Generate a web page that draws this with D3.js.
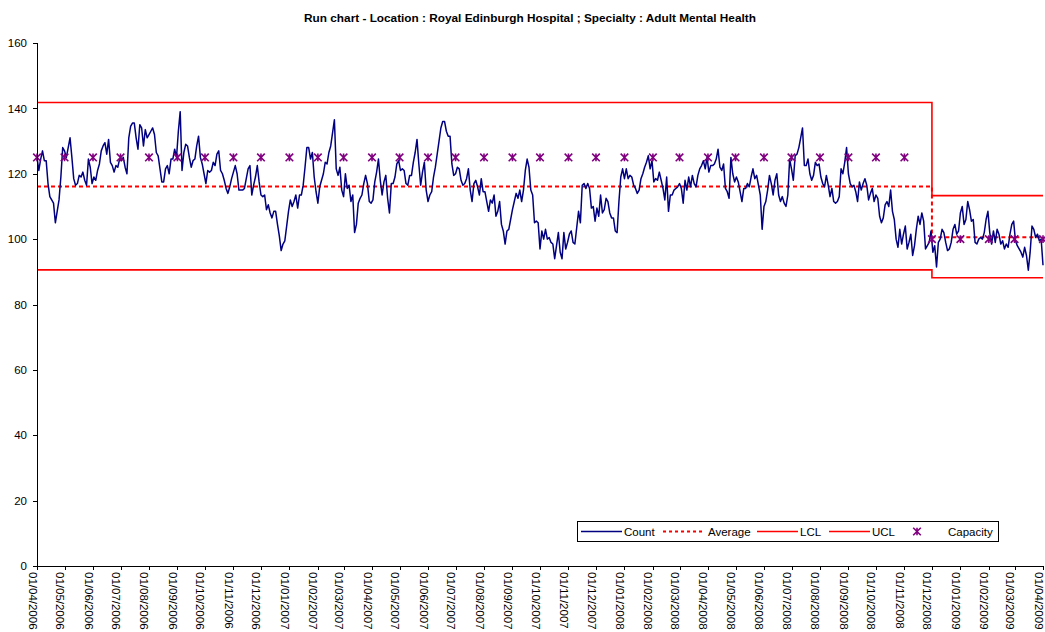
<!DOCTYPE html>
<html>
<head>
<meta charset="utf-8">
<script src="https://cdn.jsdelivr.net/npm/d3@7"></script>
<style>
  body { margin: 0; background: #fff; }
  svg { font-family: Arial, "Liberation Sans", sans-serif; }
  .axis path, .axis line { stroke: #000; shape-rendering: crispEdges; }
  .axis text { fill: #000; }
</style>
</head>
<body>
<div id="wrapper"></div>
<script>
// ---- data ----
const chartTitle = "Run chart - Location : Royal Edinburgh Hospital ; Specialty : Adult Mental Health"

const monthLabels = [
  "01/04/2006","01/05/2006","01/06/2006","01/07/2006","01/08/2006","01/09/2006",
  "01/10/2006","01/11/2006","01/12/2006","01/01/2007","01/02/2007","01/03/2007",
  "01/04/2007","01/05/2007","01/06/2007","01/07/2007","01/08/2007","01/09/2007",
  "01/10/2007","01/11/2007","01/12/2007","01/01/2008","01/02/2008","01/03/2008",
  "01/04/2008","01/05/2008","01/06/2008","01/07/2008","01/08/2008","01/09/2008",
  "01/10/2008","01/11/2008","01/12/2008","01/01/2009","01/02/2009","01/03/2009",
  "01/04/2009"
]

// capacity, one per month label
const capacity = [
  125,125,125,125,125,125,125,125,125,125,125,125,
  125,125,125,125,125,125,125,125,125,125,125,125,
  125,125,125,125,125,125,125,125,100,100,100,100,
  100
]

// count, one reading every 2 days from 01/04/2006
const countStart = "01/04/2006"
const countStepDays = 2
const countValues = [
  125,121,124.5,127,124,124,117,113,112,111,
  105,108.5,112,119,128,127,125,128,131,125,
  118.5,116.5,117,119.5,119,120.5,118,116.5,124.5,122,
  117,119,118,121,123,127,128.5,129.5,126,130.5,
  123.5,122.5,120.5,122.5,122,124.5,124,125,122,120,
  131,134.5,135.5,135.5,131,127.5,135,134,128.5,133.5,
  131,132,133,134,132,126.5,125.5,121.5,117.5,117.5,
  121.5,122.5,120,124.5,124.5,127.5,125,133,139,121,
  126.5,129,128.5,125,122,124,124.5,128.5,131.5,125,
  123,120,117,121,120.5,121,123.5,122.5,126,127,
  121,120,118,115.5,114,116,118.5,120.5,122.5,120,
  115,115,115,115.5,118.5,121.5,122.5,113.5,116.5,119,
  122.5,117.5,113.5,113,113.5,109,110.5,108,106.5,108.5,
  108.5,104.5,101,96.5,98.5,99.5,104,108.5,112,110,
  111.5,113.5,109.5,113.5,113.5,116.5,122,128,128,124.5,
  126.5,119,114.5,111,116,118,120,123.5,123,126.5,
  128.5,132.5,136.5,121.5,119.5,122,115,113,120,115.5,
  116.5,111.5,113.5,102,104.5,111,112.5,113.5,117,119.5,
  117,111.5,111,112,117.5,120.5,124.5,118,113.5,117.5,
  119.5,112.5,108,117,117,119,123,124,121,121.5,
  121,117,116.5,119.5,119.5,123.5,126.5,130.5,123,116.5,
  120.5,123.5,115,111.5,113.5,114.5,119,122,126,130,
  134,136,136,133,131.5,131.5,123,119.5,120,122,
  121.5,118,116.5,117,118.5,121.5,115,111.5,117,118,
  116,113.5,118.5,114.5,114.5,111.5,108.5,112,111,113.5,
  107,108.5,111.5,104.5,102.5,98.5,102.5,103,106,109,
  111.5,114,112.5,115,111.5,115,121,124.5,122,115,
  113.5,105,105.5,105,97,102.5,100,103,100,100.5,
  99,98.5,94,98,102,96,94,102,97,99,
  101.5,102.5,99,98.5,103.5,108.5,105,116.5,117,115.5,
  117,115.5,109.5,110,105.5,109.5,107,113.5,108,109,
  112.5,111.5,108,106.5,106.5,102.5,102,111.5,119,121.5,
  118.5,121.5,118.5,119.5,119,116.5,115.5,114,115,118.5,
  120,122,123.5,125.5,121.5,124,117.5,118.5,118,120.5,
  118,115.5,112,119,108.5,113.5,113.5,115,115.5,116,
  117,115.5,111,118,115,119,116,119.5,117,116,
  119.5,121.5,122.5,124,121.5,125,120.5,122.5,122.5,123,
  124.5,127.5,122,121,123,115.5,114.5,112.5,125,120,
  117.5,119,117.5,114.5,111.5,115.5,115.5,117,116,119,
  121.5,118.5,119.5,116.5,113.5,103,110,111.5,115,119.5,
  117,113.5,118,120,113.5,111.5,113,111,110,113.5,
  124.5,121.5,118,125.5,126,128,131,134,122.5,122.5,
  124.5,120,118,119.5,123.5,122.5,123,119,117,116,
  119.5,116.5,113,115.5,111.5,111,111.5,113,121.5,120,
  123.5,128,120,117,116,116.5,114.5,111.5,117.5,115,
  117,118.5,116.5,112,114,115.5,111.5,113.5,112.5,107,
  105,106.5,110.5,111.5,110,115,108.5,106,100,97.5,
  103,98.5,101.5,104,97,99,101.5,95,98,103,
  107,104.5,108,105.5,97,98,99,102.5,96,98,
  91.5,99,100,103,102,99,96.5,97,99,103,
  104.5,101.5,102.5,108,110,104.5,106,111.5,109,105.5,
  106,99,98.5,100,100.5,100,102,106,108.5,102,
  98.5,102.5,99,103,101.5,98.5,99.5,97,98.5,97.5,
  101.5,104.5,105.5,99.5,98,97,96,94.5,97.5,95,
  90.5,96,104,103,100.5,101.5,99.5,100,92
]

// control limits: value holds from each date until the next
const limitDates = ["01/04/2006", "01/12/2008", "01/04/2009"]
const average = [116.1, 100.6, 100.6]
const lcl = [90.6, 88.2, 88.2]
const ucl = [141.8, 113.3, 113.3]

const yTicks = [0, 20, 40, 60, 80, 100, 120, 140, 160]

// ---- chart ----
const parseDate = d3.timeParse("%d/%m/%Y")

const dimensions = {
  width: 1045,
  height: 632,
  margin: { top: 43, right: 2, bottom: 66, left: 37 },
}
dimensions.boundedWidth = dimensions.width - dimensions.margin.left - dimensions.margin.right
dimensions.boundedHeight = dimensions.height - dimensions.margin.top - dimensions.margin.bottom

const months = monthLabels.map(parseDate)
const start = parseDate(countStart)
const counts = countValues.map((v, i) => ({ date: d3.timeDay.offset(start, i * countStepDays), value: v }))

const limitRows = (values) => limitDates.map((d, i) => ({ date: parseDate(d), value: values[i] }))

const xScale = d3.scaleTime()
  .domain([months[0], months[months.length - 1]])
  .range([0, dimensions.boundedWidth])

const yScale = d3.scaleLinear()
  .domain([0, 160])
  .range([dimensions.boundedHeight, 0])

const wrapper = d3.select("#wrapper")
  .append("svg")
    .attr("width", dimensions.width)
    .attr("height", dimensions.height)

wrapper.append("text")
    .attr("x", 530)
    .attr("y", 22)
    .attr("text-anchor", "middle")
    .style("font-size", "11.8px")
    .style("font-weight", "bold")
    .text(chartTitle)

const bounds = wrapper.append("g")
    .attr("transform", `translate(${dimensions.margin.left},${dimensions.margin.top})`)

// limits
const stepLine = d3.line()
  .x(d => xScale(d.date))
  .y(d => yScale(d.value))
  .curve(d3.curveStepAfter)

bounds.append("path")
    .datum(limitRows(lcl))
    .attr("d", stepLine)
    .attr("fill", "none")
    .attr("stroke", "#ff0000")
    .attr("stroke-width", 1.6)

bounds.append("path")
    .datum(limitRows(ucl))
    .attr("d", stepLine)
    .attr("fill", "none")
    .attr("stroke", "#ff0000")
    .attr("stroke-width", 1.6)

bounds.append("path")
    .datum(limitRows(average))
    .attr("d", stepLine)
    .attr("fill", "none")
    .attr("stroke", "#ff0000")
    .attr("stroke-width", 2)
    .attr("stroke-dasharray", "4,3")

// count
const countLine = d3.line()
  .x(d => xScale(d.date))
  .y(d => yScale(d.value))

bounds.append("path")
    .datum(counts)
    .attr("d", countLine)
    .attr("fill", "none")
    .attr("stroke", "#000080")
    .attr("stroke-width", 1.5)
    .attr("stroke-linejoin", "round")

// capacity markers
const star = s => `M${-s},${-s}L${s},${s}M${-s},${s}L${s},${-s}M0,${-s}L0,${s}`

bounds.append("g")
  .selectAll("path")
  .data(capacity)
  .join("path")
    .attr("transform", (d, i) => `translate(${xScale(months[i])},${yScale(d)})`)
    .attr("d", star(3.8))
    .attr("fill", "none")
    .attr("stroke", "#800080")
    .attr("stroke-width", 1.6)

// axes
const yAxis = d3.axisLeft(yScale)
  .tickValues(yTicks)
  .tickSize(4)
  .tickPadding(6)
  .tickFormat(d3.format("d"))

bounds.append("g")
    .attr("class", "axis")
    .call(yAxis)
    .call(g => g.select(".domain").attr("d", `M0.5,${dimensions.boundedHeight}V0`))
    .selectAll("text")
      .style("font-size", "11.5px")

const xAxis = d3.axisBottom(xScale)
  .tickValues(months)
  .tickSize(4)
  .tickSizeOuter(0)
  .tickFormat((d, i) => monthLabels[i])

const xAxisGroup = bounds.append("g")
    .attr("class", "axis")
    .attr("transform", `translate(0,${dimensions.boundedHeight})`)
    .call(xAxis)

xAxisGroup.selectAll("text")
    .style("font-size", "11.5px")
    .attr("text-anchor", "start")
    .attr("transform", "rotate(90)")
    .attr("x", 6)
    .attr("y", 0)
    .attr("dy", "0.78em")

// legend
const legend = wrapper.append("g")
    .attr("transform", "translate(577,521)")
    .style("font-size", "11.5px")

legend.append("rect")
    .attr("x", 0.5)
    .attr("y", 0.5)
    .attr("width", 421)
    .attr("height", 20)
    .attr("fill", "#fff")
    .attr("stroke", "#000")

const legendItems = [
  { label: "Count", x: 4, stroke: "#000080", dash: null, width: 1.5 },
  { label: "Average", x: 86, stroke: "#ff0000", dash: "3,3", width: 2 },
  { label: "LCL", x: 180, stroke: "#ff0000", dash: null, width: 1.5 },
  { label: "UCL", x: 252, stroke: "#ff0000", dash: null, width: 1.5 },
]

legendItems.forEach(item => {
  legend.append("line")
      .attr("x1", item.x)
      .attr("x2", item.x + 41)
      .attr("y1", 10.5)
      .attr("y2", 10.5)
      .attr("stroke", item.stroke)
      .attr("stroke-width", item.width)
      .attr("stroke-dasharray", item.dash)
  legend.append("text")
      .attr("x", item.x + (item.label === "Average" ? 45 : 43))
      .attr("y", 10.5)
      .attr("dy", "0.35em")
      .text(item.label)
})

legend.append("path")
    .attr("transform", "translate(340,10.5)")
    .attr("d", star(3.8))
    .attr("fill", "none")
    .attr("stroke", "#800080")
    .attr("stroke-width", 1.6)

legend.append("text")
    .attr("x", 371)
    .attr("y", 10.5)
    .attr("dy", "0.35em")
    .text("Capacity")
</script>
</body>
</html>
